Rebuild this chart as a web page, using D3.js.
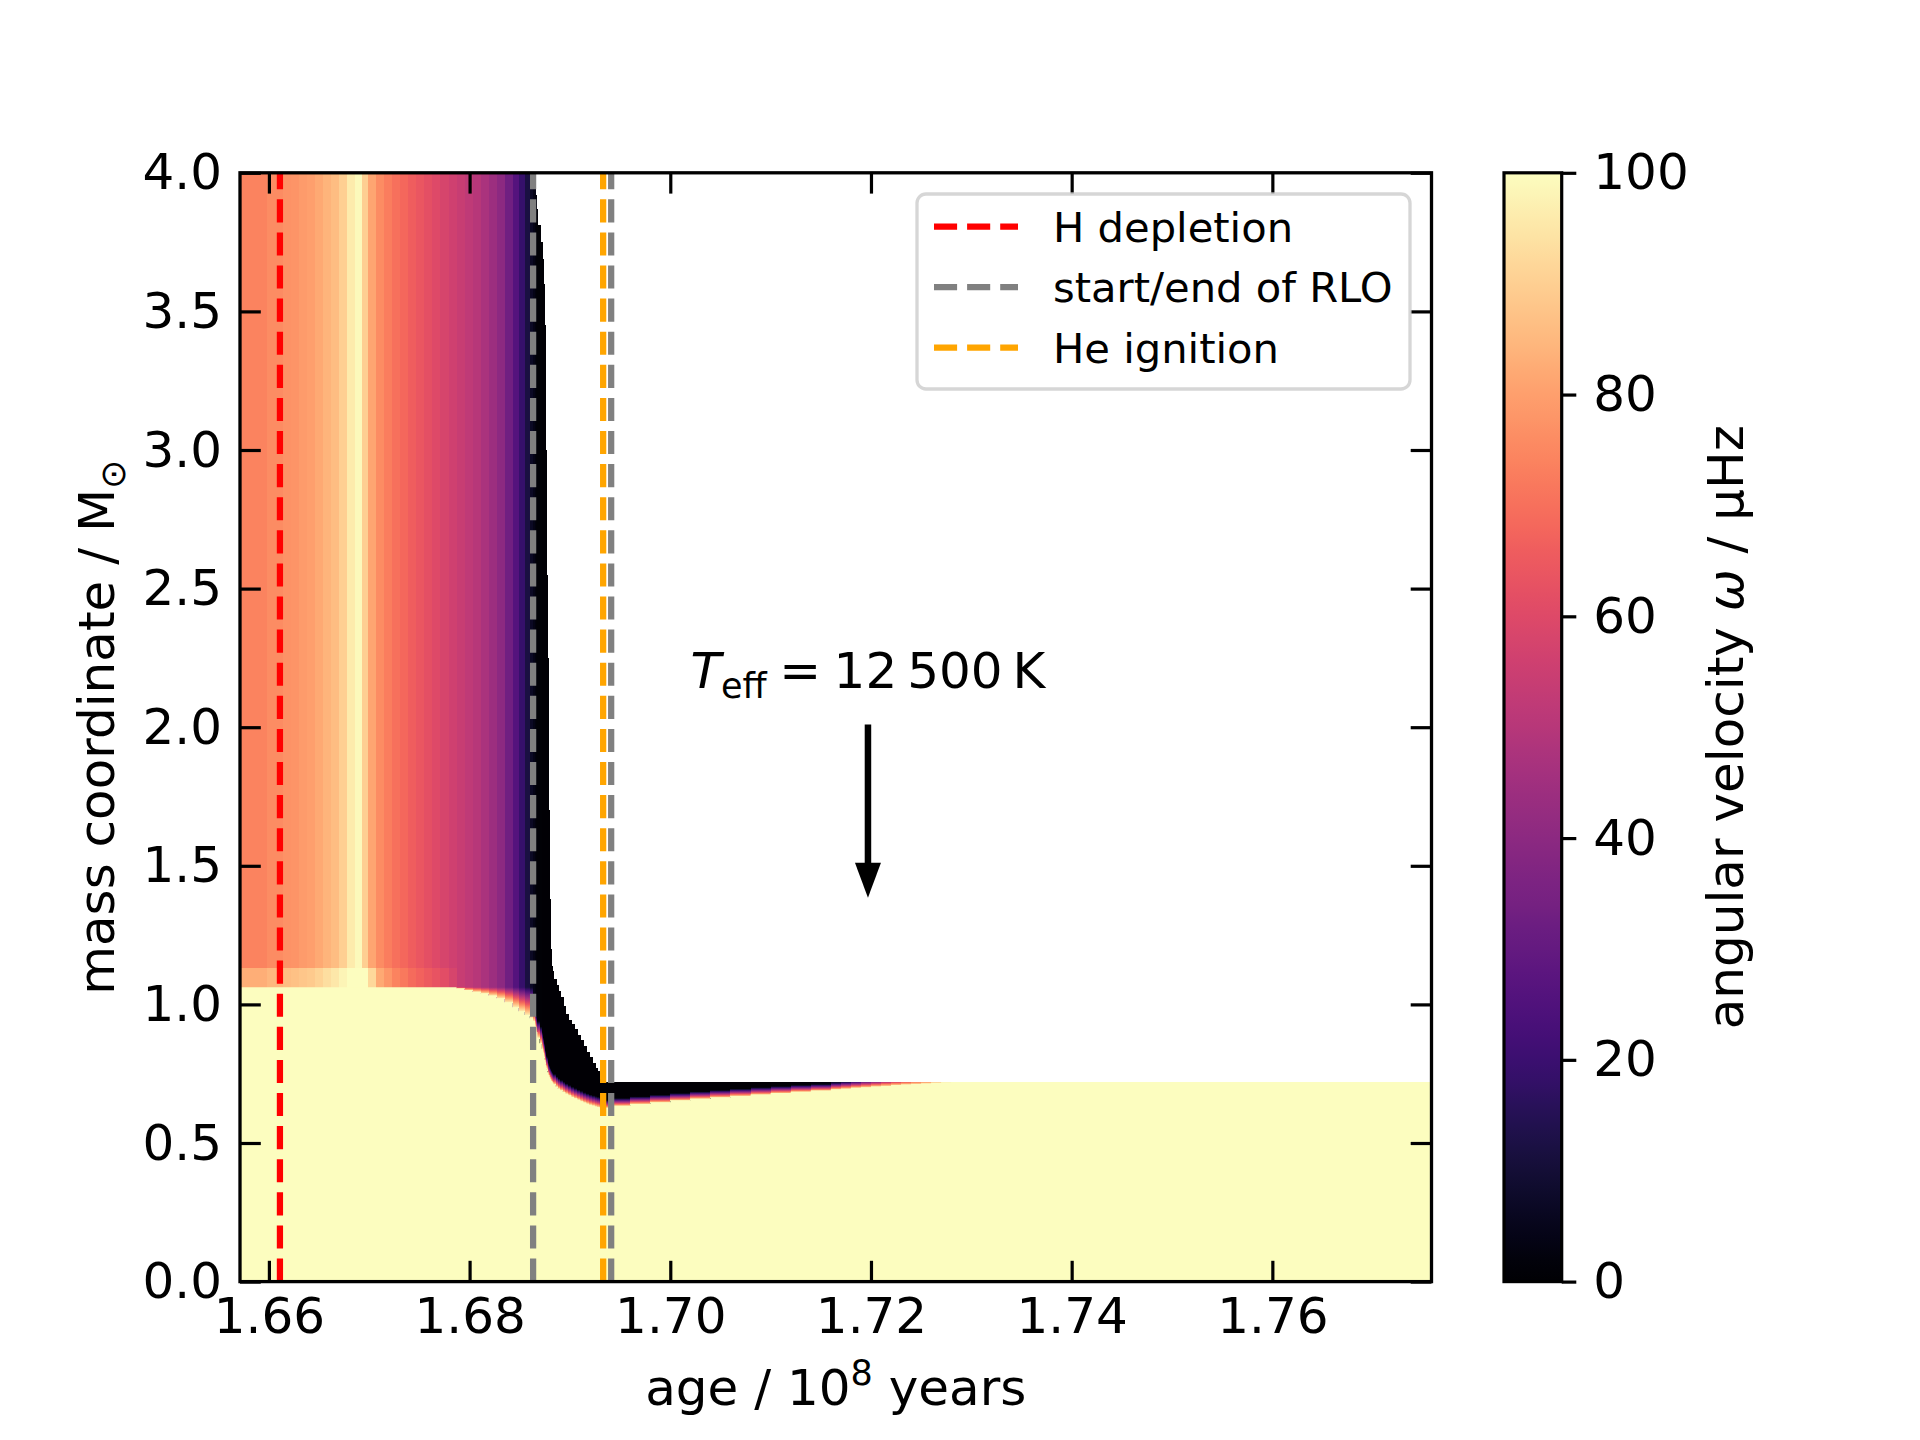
<!DOCTYPE html>
<html>
<head>
<meta charset="utf-8">
<script src="https://cdn.jsdelivr.net/npm/d3@7"></script>
<style>
  body { margin: 0; background: #fff; }
  text { font-family: "DejaVu Sans", sans-serif; }
</style>
</head>
<body>
<svg id="chart" width="1920" height="1440"></svg>
<script>
// ---------------- data ----------------
// ages in 10^8 yr, masses in M_sun, angular velocity omega in microHz
const STAR_MASS = 4.0;        // surface mass before Roche-lobe overflow
const PRE_BAND_TOP = 1.062;   // top of the (omega >= 100) core before RLO
const PRE_SHELL_TOP = 1.13;   // top of the faster-rotating shell before RLO
const POST_SURFACE = 0.72;    // surface mass after RLO
const LAST_AGE = 1.7759;      // right edge of the last model column

// pre-RLO model columns (left edges)
const preAge = [1.6571, 1.6598, 1.6614, 1.6622, 1.6630, 1.6638, 1.6646, 1.6654, 1.6662, 1.6670,
                1.6678, 1.6686, 1.6693, 1.6699, 1.6707, 1.6715, 1.6723, 1.6731, 1.6739, 1.6747,
                1.6755, 1.6763, 1.6771, 1.6779, 1.6787, 1.6795, 1.6803, 1.6811, 1.6819, 1.6827,
                1.6835, 1.6843, 1.6849, 1.6855, 1.6860];
const preEnvOmega = [74, 76, 77, 77.5, 79, 80, 82, 84, 86, 90,
                     96, 99, 90, 81, 76, 73, 70, 68, 66, 64,
                     62, 60, 58, 56, 54, 52, 50, 47, 44, 40,
                     33, 26, 19, 12, 7];
const preShellOmega = [83, 85, 86, 87, 88, 89, 91, 93, 95, 98,
                       100, 100, 100, 92, 82, 78, 74, 72, 69, 67,
                       65, 63, 61, 58, null, null, null, null, null, null,
                       null, null, null, null, null];
const preCoreMass = [1.062, 1.062, 1.062, 1.062, 1.062, 1.062, 1.062, 1.062, 1.062, 1.062,
                     1.062, 1.062, 1.062, 1.062, 1.062, 1.062, 1.062, 1.062, 1.062, 1.062,
                     1.062, 1.062, 1.062, 1.062, 1.058, 1.052, 1.046, 1.040, 1.032, 1.022,
                     1.008, 0.990, 0.975, 0.962, 0.950];

// RLO columns
const rloAge = [1.68632, 1.68653, 1.68665, 1.68676, 1.68698, 1.68720, 1.68733, 1.68743, 1.68750, 1.68756,
                1.68761, 1.68766, 1.68770, 1.68778, 1.68786, 1.68796, 1.68805, 1.68813, 1.68825, 1.68836,
                1.68860, 1.68880, 1.68902, 1.68930, 1.68955, 1.68985, 1.69015, 1.69042, 1.69075, 1.69105,
                1.69135, 1.69165, 1.69190, 1.69218, 1.69245, 1.69270, 1.69294];
const rloSurface = [4.0, 3.92, 3.87, 3.81, 3.75, 3.69, 3.6, 3.45, 3.25, 3.0,
                    2.8, 2.55, 2.25, 2.0, 1.7, 1.38, 1.2, 1.14, 1.12, 1.09,
                    1.07, 1.05, 1.025, 0.995, 0.965, 0.942, 0.928, 0.91, 0.89, 0.87,
                    0.85, 0.83, 0.81, 0.79, 0.772, 0.758, 0.73];
const rloCore = [0.94, 0.92, 0.90, 0.88, 0.86, 0.84, 0.826, 0.81, 0.80, 0.79,
                 0.78, 0.77, 0.765, 0.755, 0.745, 0.737, 0.73, 0.724, 0.718, 0.712,
                 0.703, 0.696, 0.690, 0.684, 0.678, 0.672, 0.666, 0.661, 0.656, 0.651,
                 0.646, 0.642, 0.638, 0.635, 0.632, 0.630, 0.628];
const rloBand = [1.0, 0.98, 0.96, 0.94, 0.92, 0.90, 0.88, 0.86, 0.85, 0.835,
                 0.825, 0.815, 0.81, 0.80, 0.79, 0.78, 0.77, 0.762, 0.755, 0.749,
                 0.740, 0.733, 0.727, 0.721, 0.715, 0.709, 0.703, 0.698, 0.693, 0.688,
                 0.683, 0.679, 0.675, 0.672, 0.669, 0.667, 0.665];
const rloEnvOmega = [4, 2.5, 1.5, 1, 0.8, 0.6, 0.5, 0.5, 0.5, 0.5,
                     0.5, 0.5, 0.5, 0.5, 0.5, 0.5, 0.5, 0.5, 0.5, 0.5,
                     0.5, 0.5, 0.5, 0.5, 0.5, 0.5, 0.5, 0.5, 0.5, 0.5,
                     0.5, 0.5, 0.5, 0.5, 0.5, 0.5, 0.5];

// post-RLO columns
const postAge = [1.69301, 1.6940, 1.6960, 1.6980, 1.7000, 1.7020, 1.7040, 1.7060, 1.7080, 1.7100,
                 1.7120, 1.7140, 1.7160, 1.7170, 1.7180, 1.7190, 1.7200, 1.7210, 1.7220, 1.7230,
                 1.7240, 1.7250, 1.7260, 1.7270, 1.7280];
const postCore = [0.627, 0.634, 0.641, 0.647, 0.654, 0.660, 0.665, 0.670, 0.675, 0.680,
                  0.685, 0.689, 0.694, 0.696, 0.699, 0.701, 0.704, 0.706, 0.709, 0.711,
                  0.713, 0.715, 0.717, 0.719, 0.72];
const postBand = [0.655, 0.662, 0.668, 0.674, 0.680, 0.686, 0.691, 0.696, 0.701, 0.705,
                  0.709, 0.712, 0.716, 0.718, 0.719, 0.72, 0.72, 0.72, 0.72, 0.72,
                  0.72, 0.72, 0.72, 0.72, 0.72];
const postEnvOmega = [0.5, 0.5, 0.5, 0.5, 0.5, 0.5, 0.5, 0.5, 0.5, 0.8,
                      1.5, 3, 10, 16, 24, 32, 40, 50, 58, 65,
                      72, 78, 85, 92, 100];

// event lines
const eventNames  = ["H depletion", "start/end of RLO", "He ignition"];
const eventColors = ["red", "grey", "orange"];
const eventAges   = [[1.6611], [1.68633, 1.69411], [1.69331]];

// axes ticks
const xTicks = [1.66, 1.68, 1.70, 1.72, 1.74, 1.76];
const yTicks = [0, 0.5, 1.0, 1.5, 2.0, 2.5, 3.0, 3.5, 4.0];
const cbTicks = [0, 20, 40, 60, 80, 100];

// annotation
const annotAge = 1.7197, annotTextMass = 2.14, arrowFromMass = 2.01, arrowToMass = 1.385;

// ---------------- layout ----------------
const W = 1920, H = 1440;
const M = { left: 240, right: 1431.5, top: 172.8, bottom: 1281.6 };
const CB = { x: 1504, w: 57.7 };
const FS = 50, LFS = 41.67;

const x = d3.scaleLinear().domain([1.65712, 1.77586]).range([M.left, M.right]);
const y = d3.scaleLinear().domain([0, 4]).range([M.bottom, M.top]);
const color = d3.scaleSequential(d3.interpolateMagma).domain([0, 100]).clamp(true);

const svg = d3.select("#chart");
svg.append("rect").attr("width", W).attr("height", H).attr("fill", "#fff");
const defs = svg.append("defs");
defs.append("clipPath").attr("id", "plotClip").append("rect")
  .attr("x", M.left).attr("y", M.top).attr("width", M.right - M.left).attr("height", M.bottom - M.top);

// ---------------- build columns ----------------
const columns = [];
preAge.forEach((a, i) => columns.push({
  age: a, surface: STAR_MASS, core: preCoreMass[i], band: PRE_BAND_TOP,
  shellTop: preShellOmega[i] == null ? PRE_BAND_TOP : PRE_SHELL_TOP,
  shellOmega: preShellOmega[i], env: preEnvOmega[i]
}));
rloAge.forEach((a, i) => columns.push({
  age: a, surface: rloSurface[i], core: rloCore[i], band: rloBand[i],
  shellTop: rloBand[i], shellOmega: null, env: rloEnvOmega[i]
}));
postAge.forEach((a, i) => columns.push({
  age: a, surface: POST_SURFACE, core: postCore[i], band: postBand[i],
  shellTop: postBand[i], shellOmega: null, env: postEnvOmega[i]
}));
columns.forEach((c, i) => { c.end = i < columns.length - 1 ? columns[i + 1].age : LAST_AGE; });

// ---------------- heat map ----------------
const heat = svg.append("g").attr("clip-path", "url(#plotClip)").attr("shape-rendering", "crispEdges");
columns.forEach((c, i) => {
  const x0 = x(c.age), w = x(c.end) - x0 + 1;
  const rect = (m0, m1, fill) => {
    if (m1 <= m0) return;
    heat.append("rect").attr("x", x0).attr("width", w)
      .attr("y", y(m1)).attr("height", y(m0) - y(m1) + 1).attr("fill", fill);
  };
  rect(0, c.surface, color(c.env));
  if (c.shellOmega != null) rect(0, c.shellTop, color(c.shellOmega));
  if (c.band > c.core) {
    const topOmega = c.shellOmega != null ? c.shellOmega : c.env;
    const g = defs.append("linearGradient").attr("id", "band" + i)
      .attr("x1", 0).attr("y1", 1).attr("x2", 0).attr("y2", 0);
    d3.range(11).forEach(k => g.append("stop").attr("offset", k / 10)
      .attr("stop-color", color(100 + (topOmega - 100) * k / 10)));
    rect(c.core, Math.min(c.band, c.surface), `url(#band${i})`);
  }
});
// (omega >= 100) core: one continuous area across all columns
const coreArea = [];
columns.forEach(c => {
  const top = Math.min(c.core, c.surface);
  coreArea.push([c.age, top], [c.end, top]);
});
heat.append("path")
  .attr("d", d3.area().x(d => x(d[0])).y0(y(0) + 2).y1(d => y(d[1])).curve(d3.curveLinear)(coreArea))
  .attr("fill", color(100)).attr("shape-rendering", "auto");

// ---------------- event lines ----------------
const evG = svg.append("g").attr("clip-path", "url(#plotClip)");
eventAges.forEach((ages, k) => ages.forEach(a => {
  evG.append("line").attr("x1", x(a)).attr("x2", x(a)).attr("y1", y(0)).attr("y2", y(4))
    .attr("stroke", eventColors[k]).attr("stroke-width", 6.25).attr("stroke-dasharray", "23.1,10");
}));

// ---------------- axes ----------------
function styleAxis(g) {
  g.select(".domain").remove();
  g.attr("font-family", "DejaVu Sans").attr("font-size", FS);
  g.selectAll(".tick line").attr("stroke", "#000").attr("stroke-width", 3.2);
  g.selectAll(".tick text").attr("fill", "#000");
}
svg.append("g").attr("transform", `translate(0,${M.bottom})`)
  .call(d3.axisBottom(x).tickValues(xTicks).tickFormat(d3.format(".2f")).tickSize(-20.8).tickPadding(16))
  .call(styleAxis);
svg.append("g").attr("transform", `translate(0,${M.top})`)
  .call(d3.axisTop(x).tickValues(xTicks).tickFormat("").tickSize(-20.8))
  .call(styleAxis);
svg.append("g").attr("transform", `translate(${M.left},0)`)
  .call(d3.axisLeft(y).tickValues(yTicks).tickFormat(d3.format(".1f")).tickSize(-20.8).tickPadding(18))
  .call(styleAxis);
svg.append("g").attr("transform", `translate(${M.right},0)`)
  .call(d3.axisRight(y).tickValues(yTicks).tickFormat("").tickSize(-20.8))
  .call(styleAxis);
svg.append("rect").attr("x", M.left).attr("y", M.top)
  .attr("width", M.right - M.left).attr("height", M.bottom - M.top)
  .attr("fill", "none").attr("stroke", "#000").attr("stroke-width", 3.3);

// axis labels
const xl = svg.append("text").attr("x", (M.left + M.right) / 2).attr("y", 1405)
  .attr("text-anchor", "middle").attr("font-size", FS);
xl.append("tspan").text("age / 10");
xl.append("tspan").attr("dy", -20).attr("font-size", 35).text("8");
xl.append("tspan").attr("dy", 20).text(" years");

const yl = svg.append("text").attr("transform", `translate(114,${(M.top + M.bottom) / 2}) rotate(-90)`)
  .attr("text-anchor", "middle").attr("font-size", FS);
yl.append("tspan").text("mass coordinate / M");
yl.append("tspan").attr("dy", 11).attr("font-size", 35).text("\u2299");

// ---------------- colour bar ----------------
const cy = d3.scaleLinear().domain([0, 100]).range([M.bottom, M.top]);
const cg = defs.append("linearGradient").attr("id", "cbGrad")
  .attr("x1", 0).attr("y1", 1).attr("x2", 0).attr("y2", 0);
d3.range(0, 101, 2).forEach(v => cg.append("stop").attr("offset", v / 100).attr("stop-color", color(v)));
svg.append("rect").attr("x", CB.x).attr("y", M.top).attr("width", CB.w).attr("height", M.bottom - M.top)
  .attr("fill", "url(#cbGrad)").attr("stroke", "#000").attr("stroke-width", 3.2);
svg.append("g").attr("transform", `translate(${CB.x + CB.w},0)`)
  .call(d3.axisRight(cy).tickValues(cbTicks).tickSize(14.6).tickPadding(17))
  .call(styleAxis);
const cl = svg.append("text").attr("transform", `translate(1743,${(M.top + M.bottom) / 2}) rotate(-90)`)
  .attr("text-anchor", "middle").attr("font-size", FS);
cl.append("tspan").text("angular velocity ");
cl.append("tspan").attr("font-style", "italic").text("\u03C9");
cl.append("tspan").text(" / \u03BCHz");

// ---------------- annotation ----------------
const ax = x(annotAge);
const at = svg.append("text").attr("x", ax).attr("y", y(annotTextMass))
  .attr("text-anchor", "middle").attr("font-size", FS);
at.append("tspan").attr("font-style", "italic").text("T");
at.append("tspan").attr("dy", 10).attr("font-size", 35).text("eff");
at.append("tspan").attr("dy", -10).text("\u2005=\u200512\u2009500\u2009K");
const tipY = y(arrowToMass), headLen = 35, headW = 13;
svg.append("line").attr("x1", ax).attr("x2", ax).attr("y1", y(arrowFromMass)).attr("y2", tipY - headLen + 2)
  .attr("stroke", "#000").attr("stroke-width", 6.5);
svg.append("path")
  .attr("d", `M${ax - headW},${tipY - headLen} L${ax + headW},${tipY - headLen} L${ax},${tipY} Z`)
  .attr("fill", "#000");

// ---------------- legend ----------------
const L = { x: 917, y: 194, w: 493, h: 195 };
const lg = svg.append("g");
lg.append("rect").attr("x", L.x).attr("y", L.y).attr("width", L.w).attr("height", L.h).attr("rx", 9)
  .attr("fill", "#fff").attr("fill-opacity", 0.8).attr("stroke", "#cccccc").attr("stroke-opacity", 0.8)
  .attr("stroke-width", 3.3);
eventNames.forEach((name, k) => {
  const ry = 226.7 + k * 60.5;
  lg.append("line").attr("x1", 934).attr("x2", 1018).attr("y1", ry).attr("y2", ry)
    .attr("stroke", eventColors[k]).attr("stroke-width", 6.25).attr("stroke-dasharray", "23.1,10");
  lg.append("text").attr("x", 1053).attr("y", ry + 15).attr("font-size", LFS).text(name);
});
</script>
</body>
</html>
